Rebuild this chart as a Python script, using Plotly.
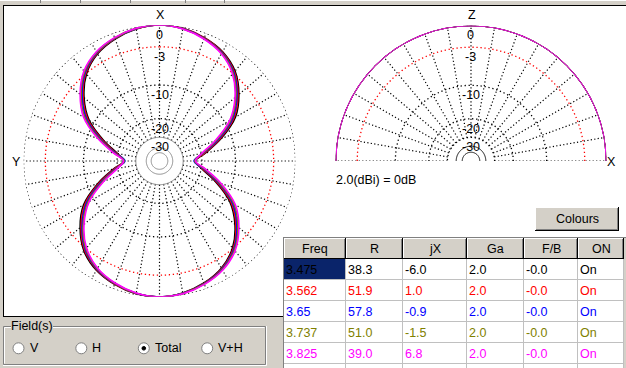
import plotly.graph_objects as go

W, H = 626, 368
FONT = "Liberation Sans, Arial, sans-serif"

# ---------------- data ----------------
FREQ_MHZ = ["3.475", "3.562", "3.65", "3.737", "3.825"]
R_OHM = [38.3, 51.9, 57.8, 51.0, 39.0]
JX_OHM = [-6.0, 1.0, -0.9, -1.5, 6.8]
GA_DBI = [2.0, 2.0, 2.0, 2.0, 2.0]
FB_DB = ["-0.0", "-0.0", "-0.0", "-0.0", "-0.0"]
ON_STATE = ["On", "On", "On", "On", "On"]
TABLE_HEAD = ["Freq", "R", "jX", "Ga", "F/B", "ON"]
SERIES_COLORS = ["#000000", "#ff0000", "#0000ff", "#808000", "#ff00ff"]

# horizontal-plane pattern (dB, normalised), azimuth measured from X towards Y
AZIMUTH_DEG = [0, 10, 20, 30, 40, 50, 60, 70, 80, 90, 100, 110, 120, 130, 140, 150, 160, 170,
               180, 190, 200, 210, 220, 230, 240, 250, 260, 270, 280, 290, 300, 310, 320, 330, 340, 350, 360]
H_DB_3475 = [0.0, -0.26, -0.80, -1.62, -3.09, -5.53, -8.86, -14.27, -19.9, -22.8,
             -18.3, -12.53, -7.54, -4.67, -2.51, -1.28, -0.60, -0.14,
             0.0, -0.26, -0.80, -1.62, -3.09, -5.53, -8.86, -14.27, -19.9, -22.8,
             -18.3, -12.53, -7.54, -4.67, -2.51, -1.28, -0.60, -0.14, 0.0]
H_DB_3562 = [0.0, -0.23, -0.75, -1.53, -2.94, -5.32, -8.53, -13.84, -19.5, -23.15,
             -18.7, -12.96, -7.87, -4.88, -2.66, -1.37, -0.65, -0.17,
             0.0, -0.23, -0.75, -1.53, -2.94, -5.32, -8.53, -13.84, -19.5, -23.15,
             -18.7, -12.96, -7.87, -4.88, -2.66, -1.37, -0.65, -0.17, 0.0]
H_DB_3650 = [0.0, -0.20, -0.70, -1.45, -2.80, -5.10, -8.20, -13.40, -19.1, -23.5,
             -19.1, -13.40, -8.20, -5.10, -2.80, -1.45, -0.70, -0.20,
             0.0, -0.20, -0.70, -1.45, -2.80, -5.10, -8.20, -13.40, -19.1, -23.5,
             -19.1, -13.40, -8.20, -5.10, -2.80, -1.45, -0.70, -0.20, 0.0]
H_DB_3737 = [0.0, -0.17, -0.65, -1.37, -2.66, -4.88, -7.87, -12.96, -18.7, -23.15,
             -19.5, -13.84, -8.53, -5.32, -2.94, -1.53, -0.75, -0.23,
             0.0, -0.17, -0.65, -1.37, -2.66, -4.88, -7.87, -12.96, -18.7, -23.15,
             -19.5, -13.84, -8.53, -5.32, -2.94, -1.53, -0.75, -0.23, 0.0]
H_DB_3825 = [0.0, -0.14, -0.60, -1.28, -2.51, -4.67, -7.54, -12.53, -18.3, -22.8,
             -19.9, -14.27, -8.86, -5.53, -3.09, -1.62, -0.80, -0.26,
             0.0, -0.14, -0.60, -1.28, -2.51, -4.67, -7.54, -12.53, -18.3, -22.8,
             -19.9, -14.27, -8.86, -5.53, -3.09, -1.62, -0.80, -0.26, 0.0]

# vertical-plane pattern (dB), elevation measured from X up to Z
ELEVATION_DEG = [0, 10, 20, 30, 40, 50, 60, 70, 80, 90, 100, 110, 120, 130, 140, 150, 160, 170, 180]
V_DB_3475 = [0.0, 0.0, 0.0, 0.0, 0.0, 0.0, 0.0, 0.0, 0.0, 0.0, 0.0, 0.0, 0.0, 0.0, 0.0, 0.0, 0.0, 0.0, 0.0]
V_DB_3562 = [0.0, 0.0, 0.0, 0.0, 0.0, 0.0, 0.0, 0.0, 0.0, 0.0, 0.0, 0.0, 0.0, 0.0, 0.0, 0.0, 0.0, 0.0, 0.0]
V_DB_3650 = [0.0, 0.0, 0.0, 0.0, 0.0, 0.0, 0.0, 0.0, 0.0, 0.0, 0.0, 0.0, 0.0, 0.0, 0.0, 0.0, 0.0, 0.0, 0.0]
V_DB_3737 = [0.0, 0.0, 0.0, 0.0, 0.0, 0.0, 0.0, 0.0, 0.0, 0.0, 0.0, 0.0, 0.0, 0.0, 0.0, 0.0, 0.0, 0.0, 0.0]
V_DB_3825 = [0.0, 0.0, 0.0, 0.0, 0.0, 0.0, 0.0, 0.0, 0.0, 0.0, 0.0, 0.0, 0.0, 0.0, 0.0, 0.0, 0.0, 0.0, 0.0]

RING_DB = [0, -3, -10, -20, -30]
RING_LABELS = ["0", "-3", "-10", "-20", "-30"]
INNER_RING_DB = [-40, -48]
FIELD_OPTIONS = ["V", "H", "Total", "V+H"]
FIELD_SELECTED = "Total"

H_SERIES = [H_DB_3475, H_DB_3562, H_DB_3650, H_DB_3737, H_DB_3825]
V_SERIES = [V_DB_3475, V_DB_3562, V_DB_3650, V_DB_3737, V_DB_3825]


def to_r(db):
    """ARRL log scale used by the program (0 dB -> 1)."""
    return 0.89 ** (-db / 2.0)


# ---------------- geometry (pixels) ----------------
L_CX, L_CY, L_R = 159.5, 161.0, 136.0
R_CX, R_CY, R_R = 471.0, 161.0, 135.5


def PX(x):
    return x / W


def PY(y):
    return 1 - y / H


fig = go.Figure()


def ring_trace(subplot, db, color, dash, thetas, width=1.3):
    fig.add_trace(go.Scatterpolar(
        r=[to_r(db)] * len(thetas), theta=thetas, mode="lines", subplot=subplot,
        line=dict(color=color, width=width, dash=dash), cliponaxis=False, hoverinfo="skip"))


def spokes_trace(subplot, angles):
    rr, tt = [], []
    for a in angles:
        rr += [to_r(-30), 1.0, None]
        tt += [a, a, None]
    fig.add_trace(go.Scatterpolar(
        r=rr, theta=tt, mode="lines", subplot=subplot,
        line=dict(color="#000000", width=1.2, dash="1.2px,2.3px"), cliponaxis=False,
        hoverinfo="skip"))


full = list(range(0, 361, 1))
half = list(range(0, 181, 1))

# ----- left (horizontal plane) grid -----
spokes_trace("polar", list(range(0, 360, 10)))
for db in RING_DB[:-1]:
    ring_trace("polar", db, "#ff0000" if db == -3 else "#000000", "1.3px,2.7px", full)
ring_trace("polar", RING_DB[-1], "#808080", "solid", full, width=1.0)
for db in INNER_RING_DB:
    ring_trace("polar", db, "#808080", "solid", full, width=1.0)

# ----- right (vertical plane) grid -----
spokes_trace("polar2", list(range(0, 181, 10)))
for db in RING_DB:
    ring_trace("polar2", db, "#ff0000" if db == -3 else "#000000", "1.3px,2.7px", half)
ring_trace("polar2", -38, "#000000", "solid", half, width=1.0)
ring_trace("polar2", -47, "#000000", "solid", half, width=1.0)

# ----- patterns -----
for vals, col in zip(H_SERIES, SERIES_COLORS):
    fig.add_trace(go.Scatterpolar(
        r=[to_r(v) for v in vals], theta=AZIMUTH_DEG, mode="lines", subplot="polar",
        line=dict(color=col, width=1.6, shape="spline", smoothing=1.0),
        cliponaxis=False, hoverinfo="skip"))
for vals, col in zip(V_SERIES, SERIES_COLORS):
    fig.add_trace(go.Scatterpolar(
        r=[to_r(v) for v in vals], theta=ELEVATION_DEG, mode="lines", subplot="polar2",
        line=dict(color=col, width=1.6, shape="spline", smoothing=1.0),
        cliponaxis=False, hoverinfo="skip"))

# ---------------- shapes & annotations ----------------
shapes = []
anns = []


def rect(x0, y0, x1, y1, fill, line=None, lw=1):
    shapes.append(dict(type="rect", xref="paper", yref="paper", x0=PX(x0), x1=PX(x1),
                       y0=PY(y1), y1=PY(y0), fillcolor=fill, layer="below",
                       line=dict(color=line or "rgba(0,0,0,0)", width=lw if line else 0)))


def line(x0, y0, x1, y1, color, width=1, layer="above"):
    shapes.append(dict(type="line", xref="paper", yref="paper", x0=PX(x0), x1=PX(x1),
                       y0=PY(y0), y1=PY(y1), layer=layer, line=dict(color=color, width=width)))


def circle(cx, cy, r, fill, color, width=1):
    shapes.append(dict(type="circle", xref="paper", yref="paper", x0=PX(cx - r), x1=PX(cx + r),
                       y0=PY(cy + r), y1=PY(cy - r), fillcolor=fill, layer="above",
                       line=dict(color=color, width=width)))


def text(s, x, y, xanchor="center", color="#000000", size=12.5, bg=None):
    d = dict(text=s, x=PX(x), y=PY(y), xref="paper", yref="paper", xanchor=xanchor,
             yanchor="middle", showarrow=False, borderpad=0, borderwidth=0,
             font=dict(family=FONT, size=size, color=color))
    if bg:
        d["bgcolor"] = bg
    anns.append(d)


GREY = "#d4d0c8"
DARK = "#808080"

# top tab strip
line(0, 0.5, 626, 0.5, "#ffffff")
for tx in [40, 80, 130, 185, 224]:
    line(tx + 0.5, 0, tx + 0.5, 3, DARK)

# white drawing panel
rect(3, 5, 626, 316, "#ffffff")
line(3.5, 5, 3.5, 316.5, "#000000")
line(3, 5.5, 626, 5.5, "#000000")
line(3, 316.5, 283, 316.5, "#000000")

# axis letters and ring labels
text("X", L_CX + 0.5, 15)
text("Y", 16, 162)
text("Z", R_CX + 0.5, 15)
text("X", 611, 162)
for db, lab in zip(RING_DB, RING_LABELS):
    text(lab, L_CX, L_CY - L_R * to_r(db) + 10)
    text(lab, R_CX - 0.5, R_CY - R_R * to_r(db) + 10)
text(f"{GA_DBI[0]:.1f}(dBi) = 0dB", 335.5, 180, xanchor="left")

# Colours button
rect(535, 207, 619, 231, GREY)
line(535, 207.5, 618, 207.5, "#ffffff")
line(535.5, 207, 535.5, 230, "#ffffff")
line(535, 230.5, 619, 230.5, "#000000")
line(618.5, 207, 618.5, 231, "#000000")
line(536, 229.5, 618, 229.5, DARK)
line(617.5, 208, 617.5, 230, DARK)
text("Colours", 577, 219)

# table
COL_X = [284, 346, 403, 467, 524, 578, 624]
HEAD_Y0, HEAD_Y1, ROW_H = 238, 259, 21
rect(283, 237, 626, 368, "#ffffff")
rect(624, 237, 626, 368, GREY)
for i in range(6):
    xl, xr = COL_X[i], COL_X[i + 1]
    rect(xl, HEAD_Y0, xr, HEAD_Y1, GREY)
    line(xl, HEAD_Y0 + 0.5, xr - 1, HEAD_Y0 + 0.5, "#ffffff")
    line(xl + 0.5, HEAD_Y0, xl + 0.5, HEAD_Y1 - 1, "#ffffff")
    line(xr - 1.5, HEAD_Y0 + 1, xr - 1.5, HEAD_Y1, DARK)
    line(xr - 0.5, HEAD_Y0, xr - 0.5, HEAD_Y1, "#000000")
    line(xl, HEAD_Y1 - 0.5, xr, HEAD_Y1 - 0.5, "#000000")
    text(TABLE_HEAD[i], (xl + xr) / 2, (HEAD_Y0 + HEAD_Y1) / 2 + 0.5)
line(283.5, 237, 283.5, 368, DARK)
line(283, 237.5, 626, 237.5, DARK)
# selected cell
rect(284, HEAD_Y1, COL_X[1] - 1, HEAD_Y1 + ROW_H - 1, "#0a246a")
for k in range(1, 6):
    y = HEAD_Y1 + ROW_H * k - 0.5
    line(284, y, 624, y, "#c0c0c0")
for xv in COL_X[1:]:
    line(xv - 0.5, HEAD_Y1, xv - 0.5, 368, "#c0c0c0")
rows = list(zip(FREQ_MHZ, [f"{v:.1f}" for v in R_OHM], [f"{v:.1f}" for v in JX_OHM],
                [f"{v:.1f}" for v in GA_DBI], FB_DB, ON_STATE))
for r_i, (row, col) in enumerate(zip(rows, SERIES_COLORS)):
    yc = HEAD_Y1 + ROW_H * r_i + 11
    for c_i, val in enumerate(row):
        text(val, COL_X[c_i] + 2, yc, xanchor="left", color=col)

# Field(s) group box
line(3.5, 326.5, 3.5, 364.5, DARK)
line(3.5, 326.5, 265.5, 326.5, DARK)
line(265.5, 326.5, 265.5, 364.5, DARK)
line(3.5, 364.5, 265.5, 364.5, DARK)
line(4.5, 327.5, 4.5, 363.5, "#ffffff")
line(4.5, 327.5, 264.5, 327.5, "#ffffff")
line(266.5, 326, 266.5, 365.5, "#ffffff")
line(3, 365.5, 266.5, 365.5, "#ffffff")
text("Field(s)", 11, 326, xanchor="left", bg=GREY)
RADIO_X = [18.5, 81.3, 143.8, 207.2]
for opt, rx in zip(FIELD_OPTIONS, RADIO_X):
    circle(rx, 348.3, 5.5, "#ffffff", DARK)
    if opt == FIELD_SELECTED:
        circle(rx, 348.3, 1.8, "#000000", "#000000")
    text(opt, rx + 11, 348.3, xanchor="left")

polar_common = dict(bgcolor="rgba(0,0,0,0)")
fig.update_layout(
    width=W, height=H, margin=dict(l=0, r=0, t=0, b=0),
    paper_bgcolor=GREY, plot_bgcolor=GREY, showlegend=False, hovermode=False,
    polar=dict(domain=dict(x=[PX(L_CX - L_R), PX(L_CX + L_R)], y=[PY(L_CY + L_R), PY(L_CY - L_R)]),
               angularaxis=dict(rotation=90, direction="counterclockwise", visible=False),
               radialaxis=dict(range=[0, 1], visible=False), **polar_common),
    polar2=dict(domain=dict(x=[PX(R_CX - R_R), PX(R_CX + R_R)], y=[PY(R_CY), PY(R_CY - R_R)]),
                sector=[0, 180],
                angularaxis=dict(rotation=0, direction="counterclockwise", visible=False),
                radialaxis=dict(range=[0, 1], visible=False), **polar_common),
    shapes=shapes, annotations=anns,
)

fig.write_html("out.html", config={"displayModeBar": False},
               post_script="document.body.style.margin='0px';document.body.style.overflow='hidden';")
